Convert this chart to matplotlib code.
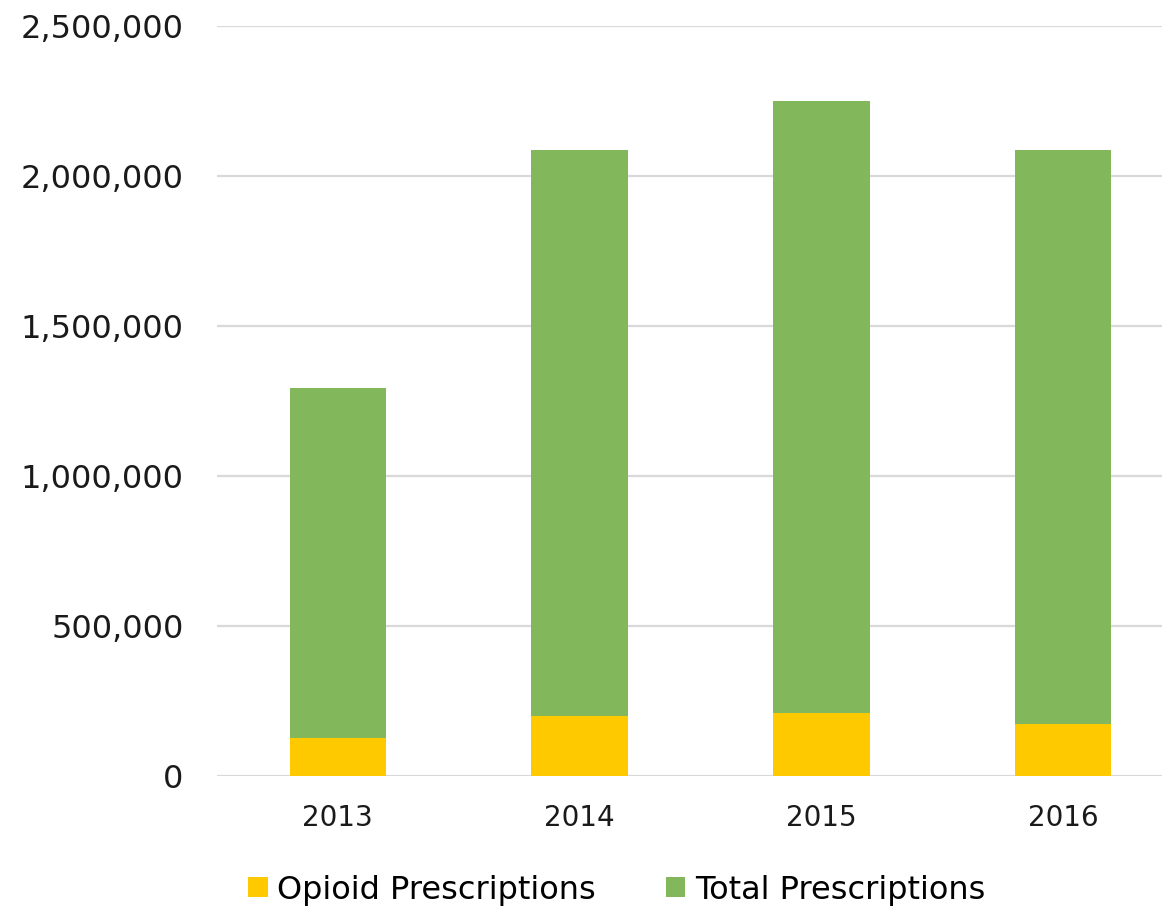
import matplotlib.pyplot as plt
from matplotlib.ticker import FuncFormatter

years = ["2013", "2014", "2015", "2016"]
opioid = [127000, 201000, 211000, 173000]
total = [1293000, 2087000, 2250000, 2087000]

green = "#82B75C"
yellow = "#FFC900"

plt.rcParams['font.family'] = ['DejaVu Sans']

fig = plt.figure(figsize=(11.64, 9.09), dpi=100)
ax = fig.add_axes([217 / 1164, 133 / 909, 945 / 1164, 750 / 909])

x = range(len(years))
# total drawn behind, opioid share drawn in front
ax.bar(x, total, width=0.4, color=green, label="Total Prescriptions", zorder=2)
ax.bar(x, opioid, width=0.4, color=yellow, label="Opioid Prescriptions", zorder=3)

ax.set_ylim(0, 2500000)
ax.set_xlim(-0.5, 3.41)
ax.set_yticks([0, 500000, 1000000, 1500000, 2000000, 2500000])
ax.yaxis.set_major_formatter(FuncFormatter(lambda v, p: "{:,.0f}".format(v)))
ax.set_xticks(list(x))
ax.set_xticklabels(years)

ax.yaxis.grid(True, color="#D9D9D9", linewidth=1.6, zorder=0)
ax.set_axisbelow(True)
for s in ax.spines.values():
    s.set_visible(False)
ax.tick_params(axis="y", length=0, pad=24, labelsize=23, labelcolor="#1a1a1a")
ax.tick_params(axis="x", length=0, pad=20, labelsize=20, labelcolor="#1a1a1a")

handles, labels = ax.get_legend_handles_labels()
leg = fig.legend(handles[::-1], labels[::-1], loc="center", bbox_to_anchor=(0.53, 1 - 890 / 909),
                 ncol=2, frameon=False, fontsize=23, handlelength=0.6, handleheight=0.6,
                 handletextpad=0.3, columnspacing=2.2)

fig.savefig("out.png", dpi=100)
